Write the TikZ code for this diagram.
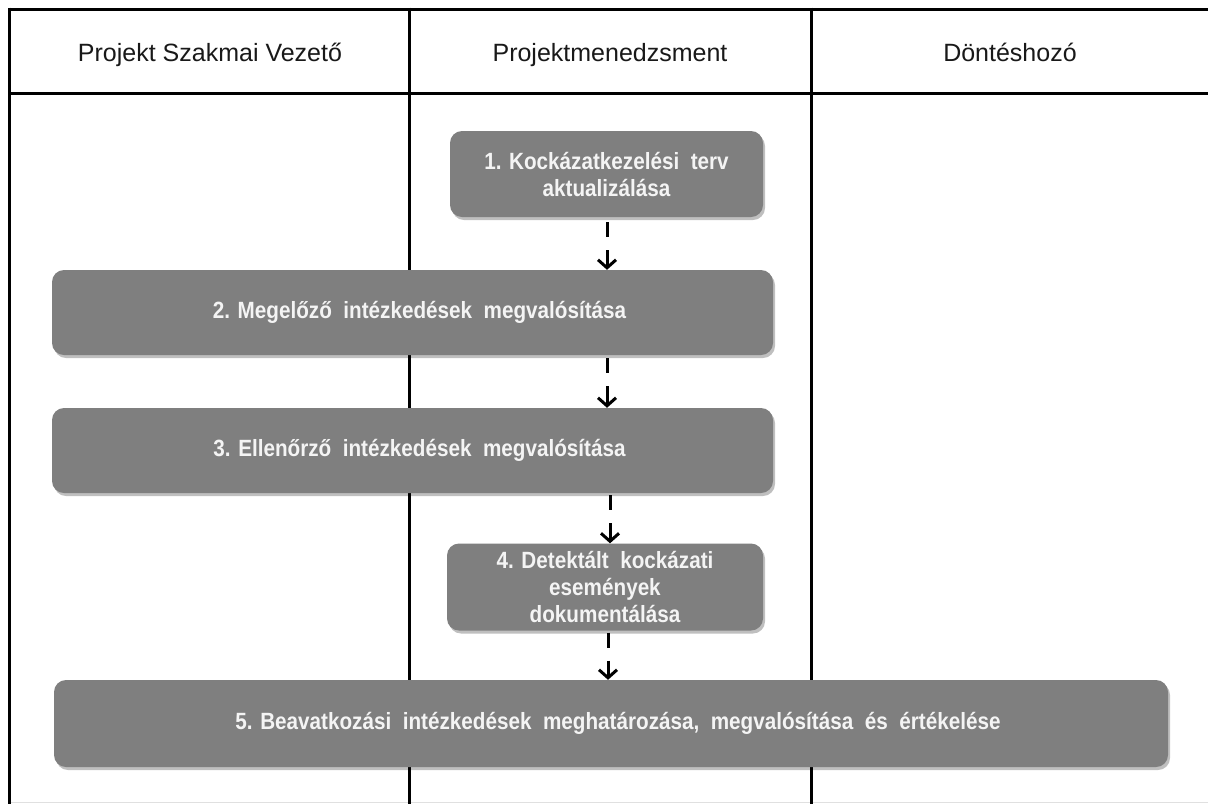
\documentclass[tikz,border=0pt]{standalone}
\usepackage{fontspec}
\setmainfont{Liberation Sans}
\newfontfamily\stepfont[FakeStretch=0.88]{Liberation Sans}
\usetikzlibrary{arrows.meta,shadows}
\definecolor{stepgray}{HTML}{7F7F7F}
\definecolor{steptext}{HTML}{F4F4F4}
\tikzset{
  lane/.style={line width=3pt, black},
  lanehead/.style={font=\fontsize{25}{30}\selectfont, text=black!90, anchor=base},
  stepbox/.style={rectangle, rounded corners=12pt, fill=stepgray, draw=none,
    text=steptext, align=center, inner sep=0pt,
    font=\stepfont\bfseries\fontsize{23.5}{27}\selectfont,
    drop shadow={shadow xshift=2pt, shadow yshift=-3pt, opacity=0.25, fill=black}},
  flow/.style={line width=3pt, dash pattern=on 15pt off 13pt on 60pt,
    -{Straight Barb[length=8pt, width=18pt, line width=3pt]}}
}
\begin{document}
\begin{tikzpicture}[x=1pt, y=-1pt]
  \useasboundingbox (0,0) rectangle (1208,804);
  \fill[white] (0,0) rectangle (1208,804);

  % swimlane frame
  \draw[black!12, line width=1pt] (9,802.5) -- (1208,802.5);
  \draw[lane] (9,9) -- (1208,9);
  \draw[lane] (9,93) -- (1208,93);
  \draw[lane] (9,7.5) -- (9,804);
  \draw[lane] (409,7.5) -- (409,804);
  \draw[lane] (811,7.5) -- (811,804);

  % lane titles
  \node[lanehead] (h1) at (210,61) {Projekt Szakmai Vezető};
  \node[lanehead] (h2) at (610,61) {Projektmenedzsment};
  \node[lanehead] (h3) at (1010,61) {Döntéshozó};

  % process steps
  \node[stepbox, minimum width=313pt, minimum height=86pt] (s1) at (606.5,174)
    {1. Kockázatkezelési\ \ terv\\aktualizálása};
  \node[stepbox, minimum width=721pt, minimum height=85pt] (s2) at (412.5,312.5)
    {\hspace*{14pt}2. Megelőző\ \ intézkedések\ \ megvalósítása};
  \node[stepbox, minimum width=721pt, minimum height=85pt] (s3) at (412.5,450.5)
    {\hspace*{14pt}3. Ellenőrző\ \ intézkedések\ \ megvalósítása};
  \node[stepbox, minimum width=316pt, minimum height=87pt] (s4) at (605,587)
    {4. Detektált\ \ kockázati\\események\\dokumentálása};
  \node[stepbox, minimum width=1114pt, minimum height=87pt] (s5) at (611,723.5)
    {\hspace*{14pt}5. Beavatkozási\ \ intézkedések\ \ meghatározása,\ \ megvalósítása\ \ és\ \ értékelése};

  % flow between steps
  \draw[flow] ([yshift=-5pt]s1.south -| 607,0) -- (s2.north -| 607,0);
  \draw[flow] ([yshift=-3pt]s2.south -| 607,0) -- (s3.north -| 607,0);
  \draw[flow] ([yshift=-2pt]s3.south -| 610,0) -- (s4.north -| 610,0);
  \draw[flow] ([yshift=-2pt]s4.south -| 608,0) -- (s5.north -| 608,0);
\end{tikzpicture}
\end{document}
